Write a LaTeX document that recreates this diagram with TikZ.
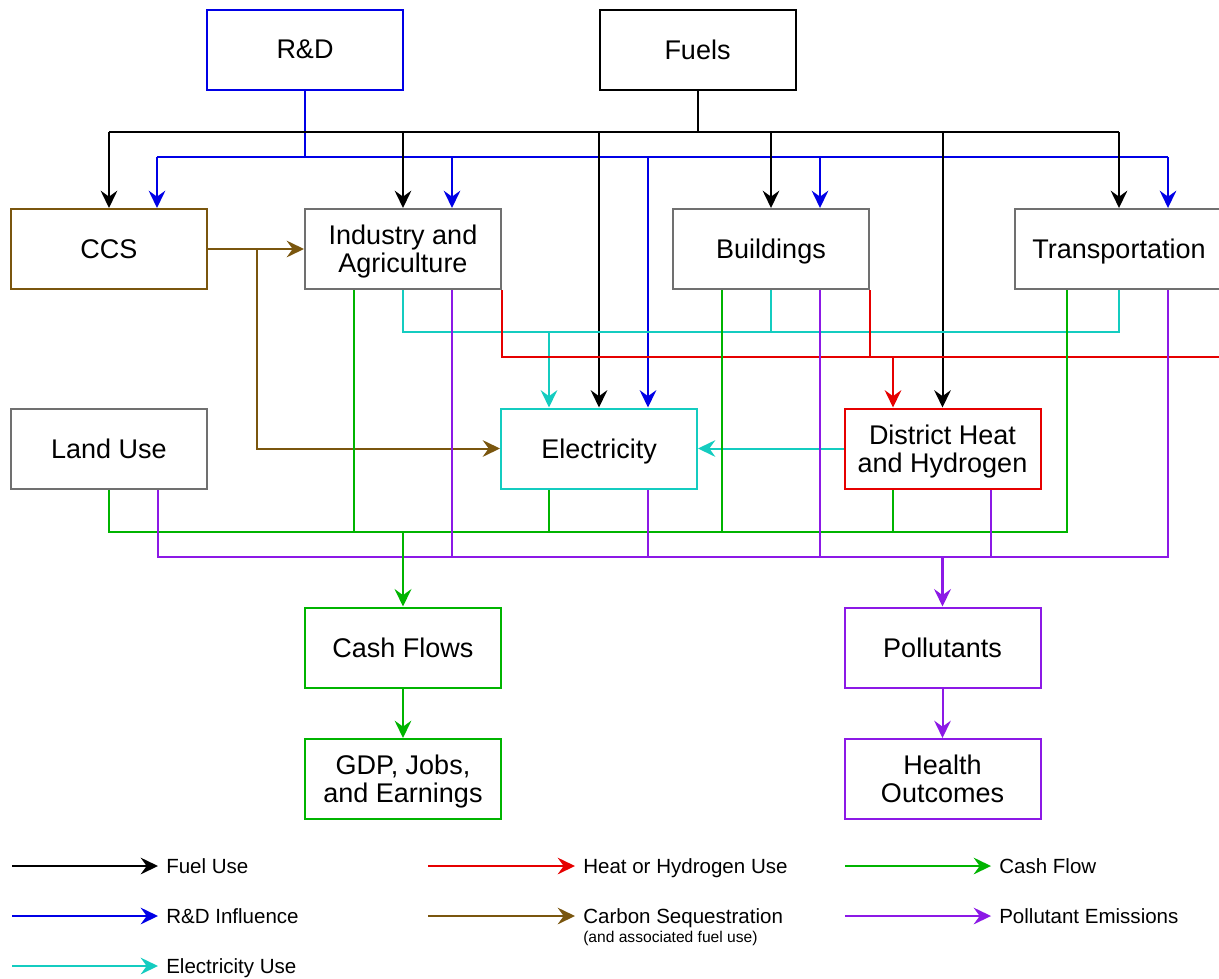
\documentclass[tikz,border=0pt]{standalone}
\usepackage{fontspec}
\setmainfont{Liberation Sans}
\usetikzlibrary{arrows.meta}
\definecolor{cBlue}{RGB}{0,0,230}
\definecolor{cBrown}{RGB}{122,86,14}
\definecolor{cGray}{RGB}{112,112,112}
\definecolor{cCyan}{RGB}{20,204,192}
\definecolor{cRed}{RGB}{230,0,0}
\definecolor{cGreen}{RGB}{0,180,0}
\definecolor{cPurple}{RGB}{140,25,230}
\newcommand{\mlines}[1]{\begin{tabular}[b]{@{}c@{}}#1\end{tabular}}
\begin{document}
\begin{tikzpicture}[x=0.75pt,y=-0.75pt,
  blk/.style={draw, line width=1.5pt, minimum width=147pt, minimum height=60pt, inner sep=0pt, text depth=0pt, font=\fontsize{20.25}{21}\selectfont},
  ln/.style={line width=1.5pt},
  thk/.style={line width=2.2pt},
  tip/.style={-{Stealth[length=13pt,width=12.5pt,inset=4.5pt]}},
  sFuel/.style={ln,black},
  sRD/.style={ln,cBlue},
  sElec/.style={ln,cCyan},
  sHeat/.style={ln,cRed},
  sSeq/.style={ln,cBrown},
  sCash/.style={ln,cGreen},
  sPoll/.style={ln,cPurple},
  leg/.style={anchor=west, inner xsep=6pt, inner ysep=0pt, text height=11pt, text depth=0pt, font=\fontsize{15.4}{17}\selectfont}]
\clip (0,0) rectangle (1219,978);
\fill[white] (0,0) rectangle (1219,978);

% nodes
\node[blk, draw=cBlue] (rd) at (305,49.5) {R\&D};
\node[blk] (fuels) at (697.5,49.5) {Fuels};
\node[blk, draw=cBrown] (ccs) at (109,249) {CCS};
\node[blk, draw=cGray] (ind) at (403,249) {\mlines{Industry and\\Agriculture}};
\node[blk, draw=cGray] (bld) at (771,249) {Buildings};
\node[blk, draw=cGray, minimum width=156pt] (tr) at (1119,249) {Transportation};
\node[blk, draw=cGray] (land) at (109,448.5) {Land Use};
\node[blk, draw=cCyan] (elec) at (599,448.5) {Electricity};
\node[blk, draw=cRed] (dh) at (942.5,448.5) {\mlines{District Heat\\and Hydrogen}};
\node[blk, draw=cGreen] (cash) at (403,647.5) {Cash Flows};
\node[blk, draw=cPurple] (poll) at (942.5,647.5) {Pollutants};
\node[blk, draw=cGreen] (gdp) at (403,779) {\mlines{GDP, Jobs,\\and Earnings}};
\node[blk, draw=cPurple] (hlth) at (942.5,779) {\mlines{Health\\Outcomes}};

% R&D influence
\coordinate (rb) at (305,157);
\coordinate (rbl) at (157,157);
\coordinate (rbr) at (1168,157);
\draw[sRD] (rd.south) -- (rb);
\draw[sRD] (rbl) -- (rbr);
\foreach \x/\n in {157/ccs,452/ind,648/elec,820/bld,1168/tr}{
  \coordinate (t) at (\x,157);
  \draw[sRD,tip] (t) -- (t |- \n.north);
}

% fuel use
\coordinate (fb) at (697.5,132);
\draw[sFuel] (fuels.south) -- (fb);
\draw[sFuel] (ccs.north |- fb) -- (tr.north |- fb);
\foreach \n in {ccs,ind,elec,bld,dh,tr}{
  \draw[sFuel,tip] (\n.north |- fb) -- (\n.north);
}

% carbon sequestration
\coordinate (sb) at (257,249);
\draw[sSeq,tip] (ccs.east) -- (ind.west);
\draw[sSeq,tip] (sb) |- (elec.west);

% electricity use
\coordinate (cy) at (403,332);
\coordinate (ce) at (549,332);
\draw[sElec] (ind.south) -- (ind.south |- cy) -- (tr.south |- cy) -- (tr.south);
\draw[sElec] (bld.south) -- (bld.south |- cy);
\draw[sElec,tip] (ce) -- (ce |- elec.north);
\draw[sElec,tip] (dh.west) -- (elec.east);

% heat or hydrogen
\coordinate (rh) at (893,357);
\draw[sHeat] (ind.south east) -- (ind.south east |- rh) -| (tr.south east);
\draw[sHeat] (bld.south east) -- (bld.south east |- rh);
\draw[sHeat,tip] (rh) -- (rh |- dh.north);

% cash flow
\coordinate (gl) at (109,532);
\coordinate (gr) at (1067,532);
\draw[sCash] (land.south) -- (gl) -- (gr) -- (gr |- tr.south);
\foreach \x/\n in {354/ind,549/elec,722/bld,893/dh}{
  \coordinate (t) at (\x,532);
  \draw[sCash] (t) -- (t |- \n.south);
}

% pollutant emissions
\coordinate (pl) at (158,557);
\coordinate (pr) at (1168,557);
\draw[sPoll] (pl |- land.south) -- (pl) -- (pr) -- (pr |- tr.south);
\foreach \x/\n in {452/ind,648/elec,820/bld,991/dh}{
  \coordinate (t) at (\x,557);
  \draw[sPoll] (t) -- (t |- \n.south);
}

\draw[sCash,thk,tip] (cash.north |- gl) -- (cash.north);
\draw[sCash,tip] (cash.south) -- (gdp.north);
\draw[sPoll,thk,tip] (poll.north |- pl) -- (poll.north);
\draw[sPoll,tip] (poll.south) -- (hlth.north);

% legend
\node[leg] (lg1) at (158,866) {Fuel Use};
\node[leg] (lg2) at (158,916) {R\&D Influence};
\node[leg] (lg3) at (158,966) {Electricity Use};
\node[leg] (lg4) at (575,866) {Heat or Hydrogen Use};
\node[leg] (lg5) at (575,916) {Carbon Sequestration};
\node[anchor=base west, inner sep=0pt, font=\fontsize{11.7}{13}\selectfont] (lg5b) at (583,942) {(and associated fuel use)};
\node[leg] (lg6) at (991,866) {Cash Flow};
\node[leg] (lg7) at (991,916) {Pollutant Emissions};
\coordinate (la1) at (12,866);
\coordinate (la2) at (12,916);
\coordinate (la3) at (12,966);
\coordinate (la4) at (428,866);
\coordinate (la5) at (428,916);
\coordinate (la6) at (845,866);
\coordinate (la7) at (845,916);
\draw[sFuel,tip] (la1) -- (lg1.west);
\draw[sRD,tip] (la2) -- (lg2.west);
\draw[sElec,tip] (la3) -- (lg3.west);
\draw[sHeat,tip] (la4) -- (lg4.west);
\draw[sSeq,tip] (la5) -- (lg5.west);
\draw[sCash,tip] (la6) -- (lg6.west);
\draw[sPoll,tip] (la7) -- (lg7.west);
\end{tikzpicture}
\end{document}
